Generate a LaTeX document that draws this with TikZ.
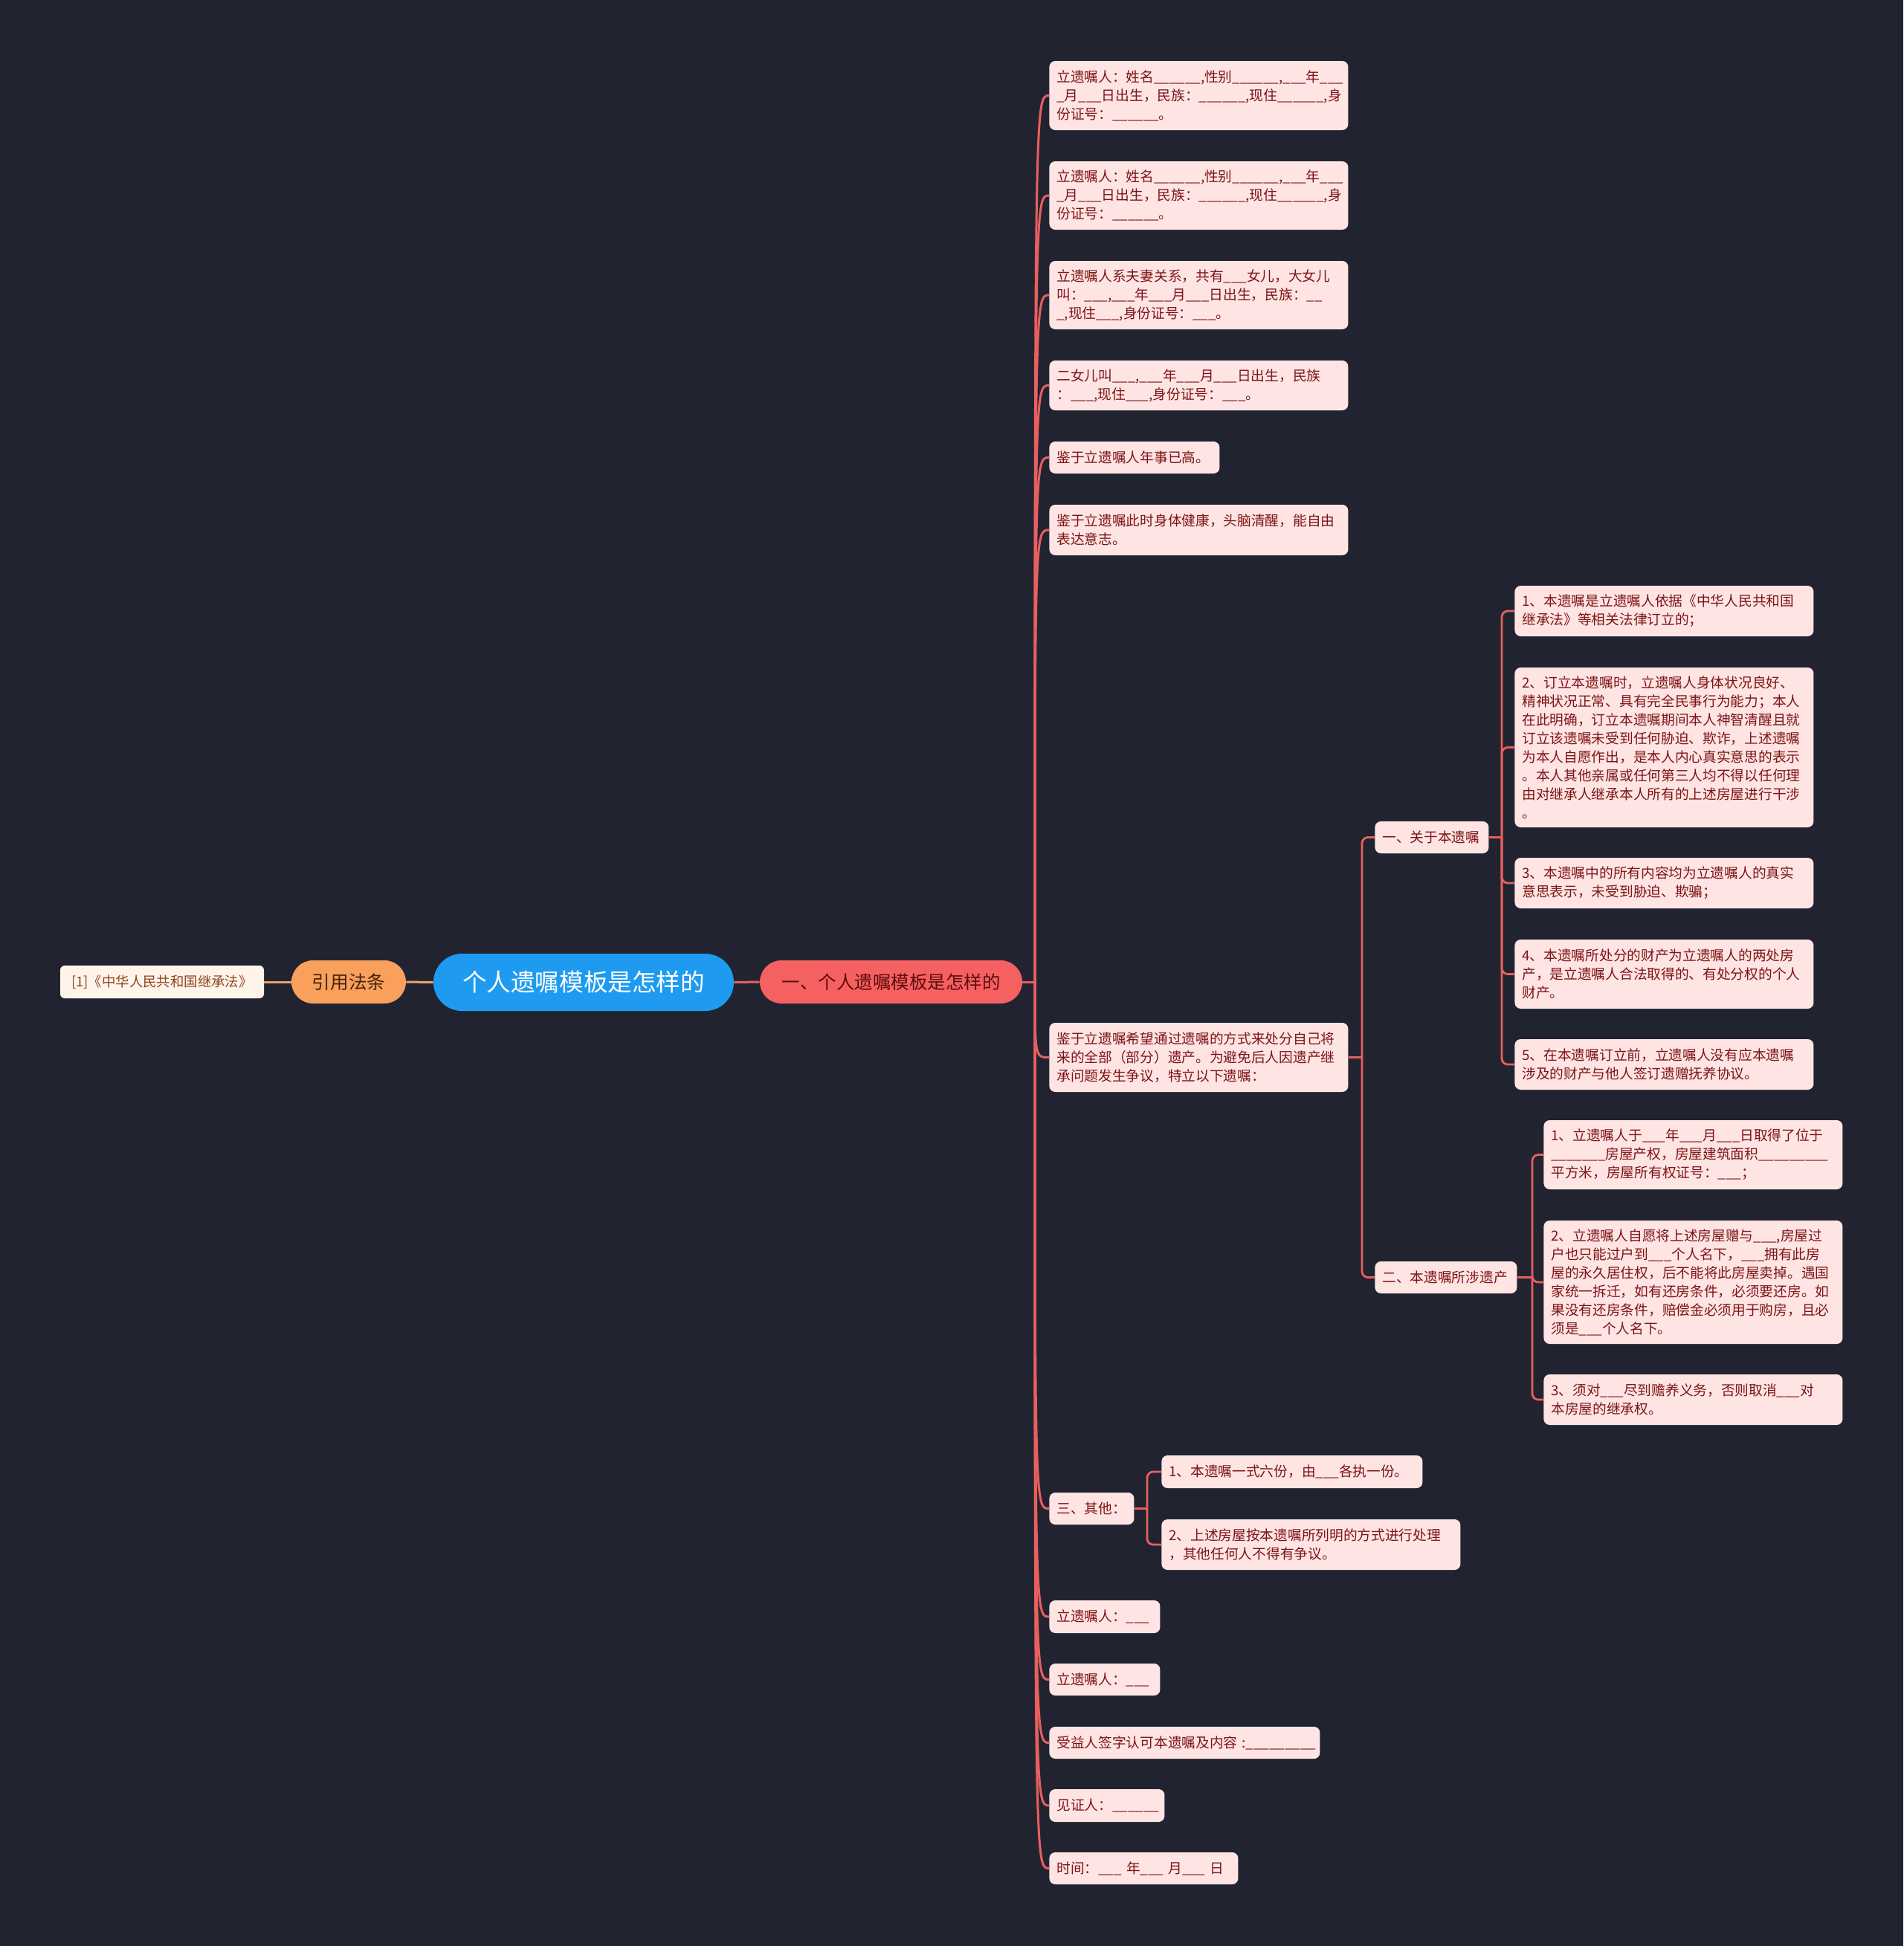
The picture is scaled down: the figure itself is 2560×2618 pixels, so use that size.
\documentclass[tikz,border=0pt]{standalone}
\usepackage{fontspec}
\setmainfont{Noto Sans CJK SC}
\usetikzlibrary{calc}
\definecolor{bg}{RGB}{33,36,48}
\definecolor{leaffill}{RGB}{255,228,228}
\definecolor{leaftext}{RGB}{125,20,20}
\definecolor{redline}{RGB}{232,95,95}
\definecolor{coral}{RGB}{245,96,96}
\definecolor{coraltext}{RGB}{95,12,12}
\definecolor{rootblue}{RGB}{30,155,240}
\definecolor{orangefill}{RGB}{248,160,92}
\definecolor{orangetext}{RGB}{70,35,10}
\definecolor{orangeline}{RGB}{236,160,105}
\definecolor{citefill}{RGB}{255,244,234}
\definecolor{citetext}{RGB}{140,70,30}
\newcommand\uthree{\_\_\_}
\newcommand\usix{\_\_\_\_\_\_}
\newcommand\leaffont{\fontsize{9.35pt}{12.5pt}\selectfont}
\begin{document}
\begin{tikzpicture}[x=0.5pt,y=-0.5pt,
  leaf/.style={fill=leaffill, text=leaftext, rounded corners=4pt, anchor=west,
    inner xsep=5pt, inner ysep=0pt, align=left, font=\leaffont, text width=191pt},
  conn/.style={draw=redline, line width=1.5pt},
  elbow/.style={draw=redline, line width=1.4pt, rounded corners=4pt},
  oconn/.style={draw=orangeline, line width=1.5pt}]
\fill[bg] (0,0) rectangle (2560,2618);
\useasboundingbox (0,0) rectangle (2560,2618);

% central nodes
\node[fill=rootblue, text=white, rounded corners=19.25pt, minimum width=202pt, minimum height=38.5pt, inner sep=0pt,
  font=\fontsize{16.3pt}{18pt}\selectfont] (root) at (785,1321.5) {个人遗嘱模板是怎样的};
\node[fill=orangefill, text=orangetext, rounded corners=14.5pt, minimum width=77pt, minimum height=29pt, inner sep=0pt,
  font=\fontsize{12.3pt}{14pt}\selectfont] (yf) at (469,1321) {引用法条};
\node[fill=citefill, text=citetext, rounded corners=3pt, minimum width=137pt, minimum height=22pt, inner sep=0pt,
  font=\fontsize{9.2pt}{11pt}\selectfont] (cite) at (218,1321) {[1]《中华人民共和国继承法》};
\node[fill=coral, text=coraltext, rounded corners=14.5pt, minimum width=176.5pt, minimum height=29pt, inner sep=0pt,
  font=\fontsize{12.25pt}{14pt}\selectfont] (p) at (1198.5,1321) {一、个人遗嘱模板是怎样的};

% level 2
\node[leaf, minimum height=46.5pt] (n1) at (1411,128.5) {立遗嘱人：姓名\usix{},性别\usix{},\uthree{}年\uthree{}\\\_月\uthree{}日出生，民族：\usix{},现住\usix{},身\\份证号：\usix{}。};
\node[leaf, minimum height=46pt] (n2) at (1411,263) {立遗嘱人：姓名\usix{},性别\usix{},\uthree{}年\uthree{}\\\_月\uthree{}日出生，民族：\usix{},现住\usix{},身\\份证号：\usix{}。};
\node[leaf, minimum height=46pt] (n3) at (1411,397) {立遗嘱人系夫妻关系，共有\uthree{}女儿，大女儿\\叫：\uthree{},\uthree{}年\uthree{}月\uthree{}日出生，民族：\_\_\\\_,现住\uthree{},身份证号：\uthree{}。};
\node[leaf, minimum height=33.5pt] (n4) at (1411,518.5) {二女儿叫\uthree{},\uthree{}年\uthree{}月\uthree{}日出生，民族\\：\uthree{},现住\uthree{},身份证号：\uthree{}。};
\node[leaf, minimum height=21.5pt, text width=104.5pt] (n5) at (1411,615.5) {鉴于立遗嘱人年事已高。};
\node[leaf, minimum height=34pt] (n6) at (1411,713) {鉴于立遗嘱此时身体健康，头脑清醒，能自由\\表达意志。};
\node[leaf, minimum height=46.5pt] (n7) at (1411,1422.5) {鉴于立遗嘱希望通过遗嘱的方式来处分自己将\\来的全部（部分）遗产。为避免后人因遗产继\\承问题发生争议，特立以下遗嘱：};
\node[leaf, minimum height=21.5pt, text width=47pt] (n8) at (1411,2029.5) {三、其他：};
\node[leaf, minimum height=22pt, text width=64.5pt] (n9) at (1411,2175) {立遗嘱人：\uthree{}};
\node[leaf, minimum height=21.5pt, text width=64.5pt] (n10) at (1411,2259.5) {立遗嘱人：\uthree{}};
\node[leaf, minimum height=21.5pt, text width=172pt] (n11) at (1411,2344.5) {受益人签字认可本遗嘱及内容~:\_\_\_\_\_\_\_\_\_};
\node[leaf, minimum height=22pt, text width=67.5pt] (n12) at (1411,2429) {见证人：\usix{}};
\node[leaf, minimum height=21.5pt, text width=117pt] (n13) at (1411,2513.5) {时间：\uthree{}~年\uthree{}~月\uthree{}~日};

% level 3
\node[leaf, minimum height=21.5pt, text width=66.5pt] (a1) at (1849,1126.5) {一、关于本遗嘱};
\node[leaf, minimum height=21.5pt, text width=85.5pt] (a2) at (1849,1718.5) {二、本遗嘱所涉遗产};

% level 4 under a1
\node[leaf, minimum height=34pt] (b1) at (2037,822) {1、本遗嘱是立遗嘱人依据《中华人民共和国\\继承法》等相关法律订立的；};
\node[leaf, minimum height=107.5pt] (b2) at (2037,1005.5) {2、订立本遗嘱时，立遗嘱人身体状况良好、\\精神状况正常、具有完全民事行为能力；本人\\在此明确，订立本遗嘱期间本人神智清醒且就\\订立该遗嘱未受到任何胁迫、欺诈，上述遗嘱\\为本人自愿作出，是本人内心真实意思的表示\\。本人其他亲属或任何第三人均不得以任何理\\由对继承人继承本人所有的上述房屋进行干涉\\。};
\node[leaf, minimum height=34pt] (b3) at (2037,1188) {3、本遗嘱中的所有内容均为立遗嘱人的真实\\意思表示，未受到胁迫、欺骗；};
\node[leaf, minimum height=46.5pt] (b4) at (2037,1310.5) {4、本遗嘱所处分的财产为立遗嘱人的两处房\\产，是立遗嘱人合法取得的、有处分权的个人\\财产。};
\node[leaf, minimum height=34pt] (b5) at (2037,1432) {5、在本遗嘱订立前，立遗嘱人没有应本遗嘱\\涉及的财产与他人签订遗赠抚养协议。};

% level 4 under a2
\node[leaf, minimum height=46.5pt] (c1) at (2076,1553.5) {1、立遗嘱人于\uthree{}年\uthree{}月\uthree{}日取得了位于\\\_\_\_\_\_\_\_房屋产权，房屋建筑面积\_\_\_\_\_\_\_\_\_\\平方米，房屋所有权证号：\uthree{}；};
\node[leaf, minimum height=83pt] (c2) at (2076,1725) {2、立遗嘱人自愿将上述房屋赠与\uthree{},房屋过\\户也只能过户到\uthree{}个人名下，\uthree{}拥有此房\\屋的永久居住权，后不能将此房屋卖掉。遇国\\家统一拆迁，如有还房条件，必须要还房。如\\果没有还房条件，赔偿金必须用于购房，且必\\须是\uthree{}个人名下。};
\node[leaf, minimum height=34pt] (c3) at (2076,1883) {3、须对\uthree{}尽到赡养义务，否则取消\uthree{}对\\本房屋的继承权。};

% level 3 under n8
\node[leaf, minimum height=22pt, text width=165.5pt] (d1) at (1562,1980) {1、本遗嘱一式六份，由\uthree{}各执一份。};
\node[leaf, minimum height=34pt] (d2) at (1562,2078) {2、上述房屋按本遗嘱所列明的方式进行处理\\，其他任何人不得有争议。};

% connectors: centre
\draw[oconn] (cite.east) -- (yf.west);
\draw[oconn] (yf.east) -- (root.west);
\draw[conn] (root.east) -- (p.west);

% trunk
\coordinate (J) at (1392,1321);
\draw[conn] (p.east) -- (J);
\foreach \n in {n1,n2,n3,n4,n5,n6,n7,n8,n9,n10,n11,n12,n13}
  \draw[conn] (J) .. controls (J |- \n.west) .. (\n.west);

% n7 -> a1,a2
\coordinate (K) at (1832,1422.5);
\draw[elbow] (n7.east) -- (K);
\draw[elbow] (K) |- (a1.west);
\draw[elbow] (K) |- (a2.west);

% a1 -> b*
\coordinate (K2) at (2020,1126.5);
\draw[elbow] (a1.east) -- (K2);
\foreach \n in {b1,b2,b3,b4,b5}
  \draw[elbow] (K2) |- (\n.west);

% a2 -> c*
\coordinate (K3) at (2061,1718.5);
\draw[elbow] (a2.east) -- (K3);
\foreach \n in {c1,c2,c3}
  \draw[elbow] (K3) |- (\n.west);

% n8 -> d*
\coordinate (K4) at (1543,2029.5);
\draw[elbow] (n8.east) -- (K4);
\foreach \n in {d1,d2}
  \draw[elbow] (K4) |- (\n.west);
\end{tikzpicture}
\end{document}
